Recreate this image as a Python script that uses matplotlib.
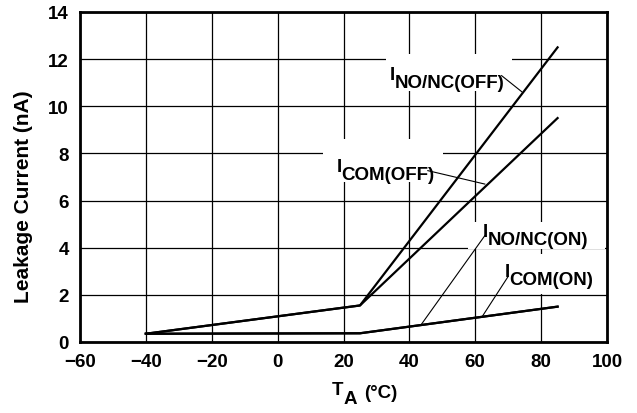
import matplotlib.pyplot as plt
from matplotlib.patches import Rectangle

plt.rcParams['font.family'] = ['Liberation Sans', 'DejaVu Sans']
plt.rcParams['font.weight'] = 'bold'

# temperature breakpoints (deg C) and leakage currents (nA)
temp = [-40, 25, 85]
i_nonc_off = [0.35, 1.55, 12.5]
i_com_off = [0.35, 1.55, 9.5]
i_nonc_on = [0.35, 0.37, 1.5]
i_com_on = [0.35, 0.37, 1.5]

xticks = [-60, -40, -20, 0, 20, 40, 60, 80, 100]
yticks = [0, 2, 4, 6, 8, 10, 12, 14]

# label: (text x, text y, subscript, leader start, leader end, mask box)
labels = [
    (34.1, 11.16, 'NO/NC(OFF)', (68.0, 11.30), (74.1, 10.62), (32.9, 10.65, 71.1, 12.22)),
    (17.9, 7.27, 'COM(OFF)', (45.6, 7.27), (62.9, 6.70), (13.8, 6.79, 50.2, 8.61)),
    (62.3, 4.51, 'NO/NC(ON)', (62.9, 4.51), (43.7, 0.76), (57.8, 3.96, 99.4, 5.09)),
    (69.0, 2.79, 'COM(ON)', (69.9, 2.76), (62.3, 1.12), (66.0, 2.04, 97.9, 3.73)),
]

fig = plt.figure(figsize=(6.37, 4.14), dpi=100)
ax = fig.add_axes([0.1256, 0.1715, 0.8273, 0.7971])

ax.set_xlim(-60, 100)
ax.set_ylim(0, 14)
ax.set_xticks(xticks)
ax.set_yticks(yticks)
ax.set_xticklabels(['\u2212' + str(-t) if t < 0 else str(t) for t in xticks],
                   fontweight='bold')
ax.set_yticklabels([str(t) for t in yticks], fontweight='bold')
ax.tick_params(length=0, labelsize=13.5, pad=8)
ax.grid(True, color='black', lw=0.9)
ax.set_axisbelow(True)
for s in ax.spines.values():
    s.set_linewidth(2)

for y in [i_nonc_off, i_com_off, i_nonc_on, i_com_on]:
    ax.plot(temp, y, color='black', lw=1.6, zorder=3)

fs = 13.5
for tx, ty, sub, p1, p2, box in labels:
    ax.add_patch(Rectangle((box[0], box[1]), box[2] - box[0], box[3] - box[1],
                           facecolor='white', edgecolor='none', zorder=1.5))
    t = ax.text(tx, ty, 'I', fontsize=fs, fontweight='bold', va='baseline', zorder=4)
    ax.annotate(sub, xy=(1, 0), xycoords=t, xytext=(-0.5, -3), textcoords='offset points',
                fontsize=fs, fontweight='bold', va='baseline', zorder=4)
    ax.plot([p1[0], p2[0]], [p1[1], p2[1]], color='black', lw=0.8, zorder=3)

ax.set_ylabel('Leakage Current (nA)', fontsize=15, fontweight='bold')
ax.yaxis.set_label_coords(-0.089, 0.444)

# x label with subscript
xl = fig.text(0.521, 0.045, 'T', fontsize=fs, fontweight='bold', ha='left', va='baseline')
ax.annotate('A', xy=(1, 0), xycoords=xl, xytext=(0, -3), textcoords='offset points',
            fontsize=fs, fontweight='bold', va='baseline', annotation_clip=False)
ax.annotate('(\u00b0C)', xy=(1, 0), xycoords=xl, xytext=(15, 1.2), textcoords='offset points',
            fontsize=fs, fontweight='bold', va='baseline', annotation_clip=False)

fig.savefig('out.png', dpi=100)
